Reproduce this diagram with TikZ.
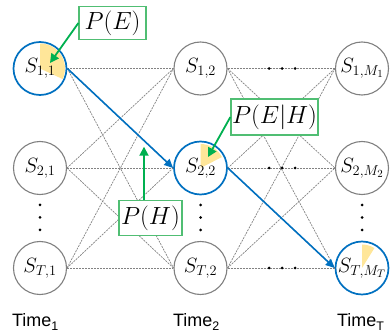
\documentclass[tikz,border=0pt]{standalone}
\usepackage{fontspec}
\newfontfamily\arialfont{Liberation Sans}
\usetikzlibrary{arrows.meta,backgrounds}
\DeclareMathSizes{21}{21}{15.5}{11}
\DeclareMathSizes{23}{23}{16.5}{12}
\definecolor{blueC}{RGB}{0,112,192}
\definecolor{greenA}{RGB}{0,176,80}
\definecolor{greenB}{RGB}{80,190,115}
\definecolor{yellowW}{RGB}{255,230,153}
\definecolor{grayC}{RGB}{128,128,128}
\definecolor{grayD}{RGB}{130,130,130}
\tikzset{
  state/.style={circle, draw=grayC, line width=1.1bp, minimum size=53bp, inner sep=0pt,
    font=\fontsize{21}{25}\selectfont},
  hot/.style={draw=blueC, line width=1.7bp},
  link/.style={draw=grayD, line width=0.7bp, dash pattern=on 2bp off 1bp},
  bluearrow/.style={draw=blueC, line width=1.6bp, -{Triangle[length=9bp,width=8bp]}},
  greenarrow/.style={draw=greenA, line width=1.8bp, -{Triangle[length=9bp,width=9bp]}},
  probbox/.style={draw=greenB, line width=1.2bp, fill=white, inner sep=0pt,
    font=\fontsize{23}{27}\selectfont},
  wedge/.style={fill=yellowW},
  dotf/.style={fill=black},
  timelab/.style={anchor=base west, inner sep=0pt, font=\arialfont\fontsize{18}{20}\selectfont}
}
\newcommand{\tsub}[1]{\raisebox{-3.5bp}{\fontsize{12.5}{14}\selectfont #1}}
\begin{document}
\begin{tikzpicture}[x=1bp,y=1bp]
\useasboundingbox (0,0) rectangle (391,332);
% states
\node[state,hot] (s11) at (40,263.5) {$S_{1,1}$};
\node[state] (s21) at (40,164) {$S_{2,1}$};
\node[state] (sT1) at (40,64) {$S_{T,1}$};
\node[state] (s12) at (200.5,263.5) {$S_{1,2}$};
\node[state,hot] (s22) at (200.5,164) {$S_{2,2}$};
\node[state] (sT2) at (200.5,64) {$S_{T,2}$};
\node[state] (s1M) at (362,263.5) {$S_{1,M_1}$};
\node[state] (s2M) at (362,164) {$S_{2,M_2}$};
\node[state,hot] (sTM) at (362,64) {$S_{T,M_T}$};
% wedges
\begin{scope}[on background layer]
\fill[wedge] (s11.center) -- ++(90:25bp) arc[start angle=90, end angle=-25, radius=25bp] -- cycle;
\fill[wedge] (s22.center) -- ++(90:24bp) arc[start angle=90, end angle=27, radius=24bp] -- cycle;
\fill[wedge] (sTM.center) -- ++(90:23.5bp) arc[start angle=90, end angle=58, radius=23.5bp] -- cycle;
\end{scope}
% dashed links
\foreach \a in {s11,s21,sT1}{
  \foreach \b in {s12,s22,sT2}{
    \draw[link] (\a.east) -- (\b.west);
  }
}
\foreach \a in {s12,s22,sT2}{
  \foreach \b in {s1M,s2M,sTM}{
    \draw[link] (\a.east) -- (\b.west);
  }
}
% ellipsis dots
\foreach \y in {263.5,164,64}{
  \foreach \x in {269,282,295}{
    \fill[dotf] (\x,\y) circle (1.5bp);
  }
}
\foreach \x in {40,200.5,362}{
  \foreach \y in {127,114.5,102}{
    \fill[dotf] (\x,\y) circle (1.5bp);
  }
}
% blue path
\draw[bluearrow] (s11.east) -- (s22.west);
\draw[bluearrow] (s22.east) -- (sTM.west);
% probability boxes
\node[probbox, minimum width=67bp, minimum height=32.5bp] (pe) at (112.5,309) {$P(E)$};
\node[probbox, minimum width=87bp, minimum height=36bp] (peh) at (274.5,215) {$P(E|H)$};
\node[probbox, minimum width=63bp, minimum height=35bp] (ph) at (150.5,114) {$P(H)$};
\coordinate (peTip) at (50,269);
\coordinate (pehTip) at (208,175);
\coordinate (phTip) at (144,185.3);
\draw[greenarrow] (pe.west) -- (peTip);
\draw[greenarrow] (peh.west) -- (pehTip);
\draw[greenarrow] ([xshift=-6.5bp]ph.north) -- (phTip);
% time labels
\node[timelab] (t1) at (12,5.5) {Time\tsub{1}};
\node[timelab] (t2) at (173,5.5) {Time\tsub{2}};
\node[timelab] (tT) at (337,5.5) {Time\tsub{T}};
\end{tikzpicture}
\end{document}
